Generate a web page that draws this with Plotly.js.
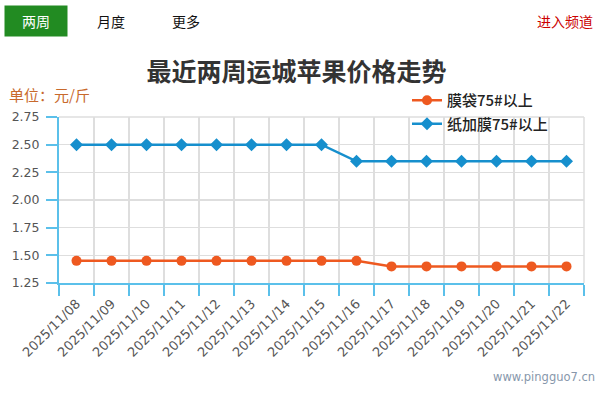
<!DOCTYPE html>
<html>
<head>
<meta charset="utf-8">
<script src="https://cdn.plot.ly/plotly-3.0.1.min.js"></script>
<style>
html,body{margin:0;padding:0;background:#fff;}
#chart{width:601px;height:393px;}
</style>
</head>
<body>
<div id="chart"></div>
<script>
const dates = ["2025/11/08","2025/11/09","2025/11/10","2025/11/11","2025/11/12","2025/11/13","2025/11/14","2025/11/15","2025/11/16","2025/11/17","2025/11/18","2025/11/19","2025/11/20","2025/11/21","2025/11/22"];
const seriesNames = ["膜袋75#以上","纸加膜75#以上"];
const mdValues = [1.45,1.45,1.45,1.45,1.45,1.45,1.45,1.45,1.45,1.40,1.40,1.40,1.40,1.40,1.40];
const zjmValues = [2.50,2.50,2.50,2.50,2.50,2.50,2.50,2.50,2.35,2.35,2.35,2.35,2.35,2.35,2.35];
const yTicks = [1.25,1.50,1.75,2.00,2.25,2.50,2.75];
const titleText = "最近两周运城苹果价格走势";
const unitText = "单位：元/斤";
const tabs = ["两周","月度","更多"];
const channelText = "进入频道";
const siteText = "www.pingguo7.cn";

const W = 601, H = 393;
const L = 59, R = 584, T = 117, B = 283;
const px = x => (x - L) / (R - L);
const py = y => (B - y) / (B - T);

const FONT = "'Noto Sans CJK SC', 'Noto Sans', sans-serif";
const TICKFONT = "'DejaVu Sans', 'Noto Sans', sans-serif";
const axisBlue = "#5bc0ea";
const gridGrey = "#dedede";

const traces = [
  {
    x: dates, y: mdValues, name: seriesNames[0], type: "scatter", mode: "lines+markers",
    line: {color: "#ee5920", width: 2.5},
    marker: {color: "#ee5920", size: 10, symbol: "circle"},
    legendgroup: "a"
  },
  {
    x: dates, y: zjmValues, name: seriesNames[1], type: "scatter", mode: "lines+markers",
    line: {color: "#168fcd", width: 2.5},
    marker: {color: "#168fcd", size: 10, symbol: "diamond"},
    legendgroup: "b"
  }
];

const annotations = [
  {text: tabs[0], xref: "paper", yref: "paper", x: px(36), y: py(21), xanchor: "center", yanchor: "middle",
   showarrow: false, font: {family: FONT, size: 14, color: "#ffffff"}, bgcolor: "#228b22",
   width: 58, height: 26, borderpad: 2},
  {text: tabs[1], xref: "paper", yref: "paper", x: px(111), y: py(21), xanchor: "center", yanchor: "middle",
   showarrow: false, font: {family: FONT, size: 14, color: "#111"}},
  {text: tabs[2], xref: "paper", yref: "paper", x: px(185.5), y: py(21), xanchor: "center", yanchor: "middle",
   showarrow: false, font: {family: FONT, size: 14, color: "#111"}},
  {text: channelText, xref: "paper", yref: "paper", x: px(595), y: py(21), xanchor: "right", yanchor: "middle",
   showarrow: false, font: {family: FONT, size: 14, color: "#cc0000"}},
  {text: unitText, xref: "paper", yref: "paper", x: px(7), y: py(94), xanchor: "left", yanchor: "middle",
   showarrow: false, font: {family: FONT, size: 15, color: "#c8692c"}},
  {text: siteText, xref: "paper", yref: "paper", x: px(597), y: py(377), xanchor: "right", yanchor: "middle",
   showarrow: false, font: {family: TICKFONT, size: 11.5, color: "#8797ab"}}
];

const shapes = [
  {type: "line", xref: "paper", yref: "paper", x0: 0, x1: 1, y0: 1, y1: 1, line: {color: gridGrey, width: 1.5}, layer: "below"},
  {type: "line", xref: "paper", yref: "paper", x0: 1, x1: 1, y0: 0, y1: 1, line: {color: gridGrey, width: 1.5}, layer: "below"}
];

const layout = {
  width: W, height: H,
  margin: {l: L, r: W - R, t: T, b: H - B, pad: 0},
  paper_bgcolor: "#ffffff", plot_bgcolor: "#ffffff",
  title: {text: "<b>" + titleText + "</b>", x: 296.5 / W, xref: "container", xanchor: "center",
          y: (H - 72) / H, yref: "container", yanchor: "middle",
          font: {family: FONT, size: 25, color: "#333333"}},
  showlegend: true,
  legend: {x: px(407), y: py(84), xanchor: "left", yanchor: "top", bgcolor: "rgba(0,0,0,0)",
           font: {family: FONT, size: 15, color: "#222", weight: 500}, traceorder: "grouped", tracegroupgap: 1,
           itemwidth: 30},
  xaxis: {
    type: "category", categoryorder: "array", categoryarray: dates,
    range: [-0.5, dates.length - 0.5],
    tickson: "boundaries", ticks: "outside", ticklen: 11, tickwidth: 2, tickcolor: axisBlue,
    showline: true, linecolor: axisBlue, linewidth: 2,
    showgrid: true, gridcolor: gridGrey, gridwidth: 1.5,
    tickangle: -45, ticklabelstandoff: 6, tickfont: {family: TICKFONT, size: 13, color: "#555"},
    zeroline: false, fixedrange: true
  },
  yaxis: {
    range: [1.25, 2.75], tickvals: yTicks, ticktext: yTicks.map(v => v.toFixed(2)),
    ticks: "outside", ticklen: 11, tickwidth: 2, tickcolor: axisBlue,
    showline: true, linecolor: axisBlue, linewidth: 2,
    showgrid: true, gridcolor: gridGrey, gridwidth: 1.5,
    ticklabelstandoff: 4, tickfont: {family: TICKFONT, size: 12.5, color: "#555"},
    zeroline: false, fixedrange: true
  },
  annotations: annotations,
  shapes: shapes
};

Plotly.newPlot("chart", traces, layout, {displayModeBar: false, staticPlot: true});
</script>
</body>
</html>
